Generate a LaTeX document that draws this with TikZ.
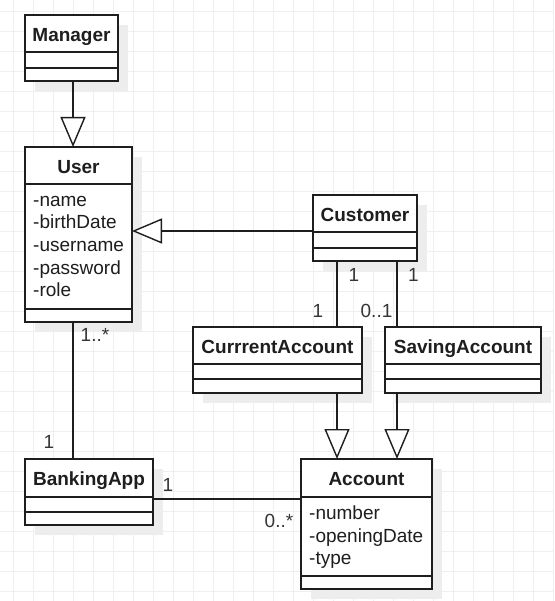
\documentclass[tikz,border=0pt]{standalone}
\usepackage{fontspec}
\setmainfont{Liberation Sans}
\usetikzlibrary{arrows.meta,fit}
\definecolor{ink}{HTML}{1E1E1E}
\definecolor{gridc}{HTML}{EFEFEF}
\definecolor{shad}{HTML}{EDEDED}
\newcommand\umlclass[7]{%
  \fill[shad] (#2+10,#3+10) rectangle (#4+10,#5+10);
  \node[umlbox, fit={(#2,#3) (#4,#5)}] (#1) {};
  \draw[sepline] (#1.west |- 0,#6) -- (#1.east |- 0,#6);
  \draw[sepline] (#1.west |- 0,#7) -- (#1.east |- 0,#7);
}
\begin{document}
\begin{tikzpicture}[x=1pt,y=-1pt,
  every node/.style={font=\fontsize{19}{22.5}\selectfont, text=ink, inner sep=0pt},
  umlbox/.style={draw=ink, line width=1.6pt, fill=white, inner sep=0pt, outer sep=0pt},
  sepline/.style={draw=ink, line width=1.6pt},
  hdr/.style={font=\fontsize{19}{22.5}\selectfont\bfseries, anchor=base},
  attr/.style={anchor=base west},
  mult/.style={anchor=base, text=ink!90},
  assoc/.style={draw=ink, line width=1.4pt},
  gen/.style={assoc, -{Triangle[length=30pt,width=25pt,fill=white,line join=miter]}}]
\useasboundingbox (0,0) rectangle (554,601);
\fill[white] (0,0) rectangle (554,601);
% background grid
\foreach \i in {0,...,27} \draw[gridc, line width=0.9pt] ({13.3+20*\i},0) -- ({13.3+20*\i},601);
\foreach \j in {0,...,29} \draw[gridc, line width=0.9pt] (0,{11.7+20*\j}) -- (554,{11.7+20*\j});

% classes
\umlclass{manager}{25}{15}{118}{81}{52}{68}
\umlclass{user}{25}{147}{132}{322}{184}{309}
\umlclass{customer}{313}{195}{417}{261}{232}{248}
\umlclass{current}{193}{327}{362}{393}{364}{379}
\umlclass{saving}{385}{327}{541}{393}{364}{379}
\umlclass{bank}{25}{459}{153}{525}{497}{512}
\umlclass{account}{301}{459}{432}{589}{497}{576}

% headers
\node[hdr] (managert) at (71.5,41.3) {Manager};
\node[hdr] (usert) at (78.5,173.3) {User};
\node[hdr] (customert) at (365,221.3) {Customer};
\node[hdr] (currentt) at (277.5,353.3) {CurrrentAccount};
\node[hdr] (savingt) at (463,353.3) {SavingAccount};
\node[hdr] (bankt) at (89,485.8) {BankingApp};
\node[hdr] (accountt) at (366.5,485.8) {Account};

% attributes
\node[attr] (ua1) at (33,206.5) {-name};
\node[attr] (ua2) at (33,229) {-birthDate};
\node[attr] (ua3) at (33,251.5) {-username};
\node[attr] (ua4) at (33,274) {-password};
\node[attr] (ua5) at (33,296.5) {-role};
\node[attr] (aa1) at (309,519.5) {-number};
\node[attr] (aa2) at (309,542) {-openingDate};
\node[attr] (aa3) at (309,564.5) {-type};

% connectors
\draw[gen] (73,0 |- manager.south) -- (73,0 |- user.north);
\draw[gen] (customer.west |- 0,231) -- (user.east |- 0,231);
\draw[assoc] (337,0 |- customer.south) -- (337,0 |- current.north);
\draw[assoc] (397,0 |- customer.south) -- (397,0 |- saving.north);
\draw[gen] (337,0 |- current.south) -- (337,0 |- account.north);
\draw[gen] (397,0 |- saving.south) -- (397,0 |- account.north);
\draw[assoc] (73,0 |- user.south) -- (73,0 |- bank.north);
\draw[assoc] (bank.east |- 0,499) -- (account.west |- 0,499);

% multiplicities
\node[mult] (m1) at (354,281) {1};
\node[mult] (m2) at (413.5,281) {1};
\node[mult] (m3) at (318,317) {1};
\node[mult] (m4) at (376.5,317) {0..1};
\node[mult] (m5) at (95,341) {1..*};
\node[mult] (m6) at (49,448) {1};
\node[mult] (m7) at (168,491) {1};
\node[mult] (m8) at (279,527) {0..*};
\end{tikzpicture}
\end{document}
